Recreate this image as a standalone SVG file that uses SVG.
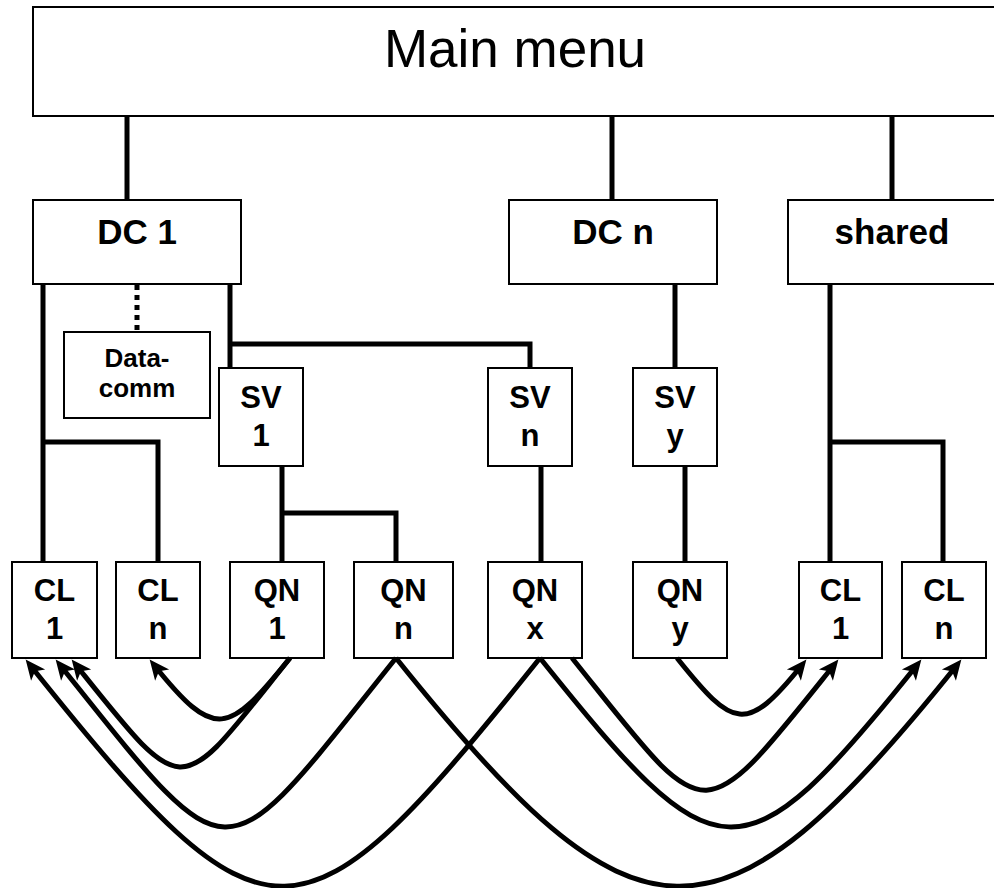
<svg xmlns="http://www.w3.org/2000/svg" width="994" height="888" viewBox="0 0 994 888">
<style>
.box{fill:#fff;stroke:#000;stroke-width:2}
.t{font-family:"Liberation Sans",Arial,Helvetica,sans-serif;font-weight:bold;text-anchor:middle;fill:#000}
.lbl{font-size:31px}
.dc{font-size:35px}
.dcomm{font-size:26px}
.main{font-family:"Liberation Sans",Arial,Helvetica,sans-serif;font-size:53px;text-anchor:middle;fill:#000}
.ln{fill:none;stroke:#000;stroke-width:5;stroke-linejoin:miter}
.dot{fill:none;stroke:#000;stroke-width:5;stroke-dasharray:5 5}
.cv{fill:none;stroke:#000;stroke-width:5;marker-end:url(#ah)}
</style>
<defs>
<marker id="ah" viewBox="-16 -11 24 22" refX="0" refY="0" markerWidth="24" markerHeight="22" markerUnits="userSpaceOnUse" orient="auto">
<path d="M7,0 L-13,-9 L-8,0 L-13,9 Z" fill="#000"/>
</marker>
</defs>
<rect width="994" height="888" fill="#fff"/>
<g id="nodes">
<g id="main-menu"><rect class="box" x="33" y="7" width="966" height="109"/><text class="main" x="515" y="67">Main menu</text></g>
<g id="dc1"><rect class="box" x="33" y="200" width="208" height="84"/><text class="t dc" x="137" y="244">DC 1</text></g>
<g id="dcn"><rect class="box" x="509" y="200" width="208" height="84"/><text class="t dc" x="613" y="244">DC n</text></g>
<g id="shared"><rect class="box" x="788" y="200" width="210" height="84"/><text class="t dc" x="892" y="244">shared</text></g>
<g id="datacomm"><rect class="box" x="64" y="332" width="146" height="86"/><text class="t dcomm" x="137" y="367">Data-</text><text class="t dcomm" x="137" y="397">comm</text></g>
<g id="sv1"><rect class="box" x="219" y="368" width="84" height="98"/><text class="t lbl" x="261" y="408">SV</text><text class="t lbl" x="261" y="446">1</text></g>
<g id="svn"><rect class="box" x="488" y="368" width="84" height="98"/><text class="t lbl" x="530" y="408">SV</text><text class="t lbl" x="530" y="446">n</text></g>
<g id="svy"><rect class="box" x="633" y="368" width="84" height="98"/><text class="t lbl" x="675" y="408">SV</text><text class="t lbl" x="675" y="446">y</text></g>
<g id="cl1-a"><rect class="box" x="12" y="562" width="85" height="96"/><text class="t lbl" x="54.5" y="601">CL</text><text class="t lbl" x="54.5" y="639">1</text></g>
<g id="cln-a"><rect class="box" x="116" y="562" width="84" height="96"/><text class="t lbl" x="158" y="601">CL</text><text class="t lbl" x="158" y="639">n</text></g>
<g id="qn1"><rect class="box" x="230" y="562" width="94" height="96"/><text class="t lbl" x="277" y="601">QN</text><text class="t lbl" x="277" y="639">1</text></g>
<g id="qnn"><rect class="box" x="354" y="562" width="99" height="96"/><text class="t lbl" x="403.5" y="601">QN</text><text class="t lbl" x="403.5" y="639">n</text></g>
<g id="qnx"><rect class="box" x="488" y="562" width="94" height="96"/><text class="t lbl" x="535" y="601">QN</text><text class="t lbl" x="535" y="639">x</text></g>
<g id="qny"><rect class="box" x="633" y="562" width="94" height="96"/><text class="t lbl" x="680" y="601">QN</text><text class="t lbl" x="680" y="639">y</text></g>
<g id="cl1-b"><rect class="box" x="799" y="562" width="83" height="96"/><text class="t lbl" x="840.5" y="601">CL</text><text class="t lbl" x="840.5" y="639">1</text></g>
<g id="cln-b"><rect class="box" x="902" y="562" width="84" height="96"/><text class="t lbl" x="944" y="601">CL</text><text class="t lbl" x="944" y="639">n</text></g>
</g>
<g id="connectors">
<path class="ln" d="M127,117 V200"/>
<path class="ln" d="M612,117 V200"/>
<path class="ln" d="M892,117 V200"/>
<path class="ln" d="M43,285 V562"/>
<path class="ln" d="M43,442 H158 V562"/>
<path class="dot" d="M137,285 V332"/>
<path class="ln" d="M230,285 V368"/>
<path class="ln" d="M230,344 H530 V368"/>
<path class="ln" d="M282,467 V562"/>
<path class="ln" d="M282,513 H396 V562"/>
<path class="ln" d="M541,467 V562"/>
<path class="ln" d="M675,285 V368"/>
<path class="ln" d="M685,467 V562"/>
<path class="ln" d="M830,285 V562"/>
<path class="ln" d="M830,442 H943 V562"/>
<path class="cv" d="M290,658 C228,735 215,741 154,665"/>
<path class="cv" d="M290,658 C177,799 188,805 76,665"/>
<path class="cv" d="M396,658 C219,879 236,885 60,665"/>
<path class="cv" d="M540,658 C300,958 269,964 30,665"/>
<path class="cv" d="M396,658 C636,958 718,964 957,665"/>
<path class="cv" d="M540,658 C717,879 741,885 917,665"/>
<path class="cv" d="M572,658 C710,830 697,836 834,665"/>
<path class="cv" d="M677,658 C733.5,728.7 746,734.6 802,665"/>
</g>
</svg>
